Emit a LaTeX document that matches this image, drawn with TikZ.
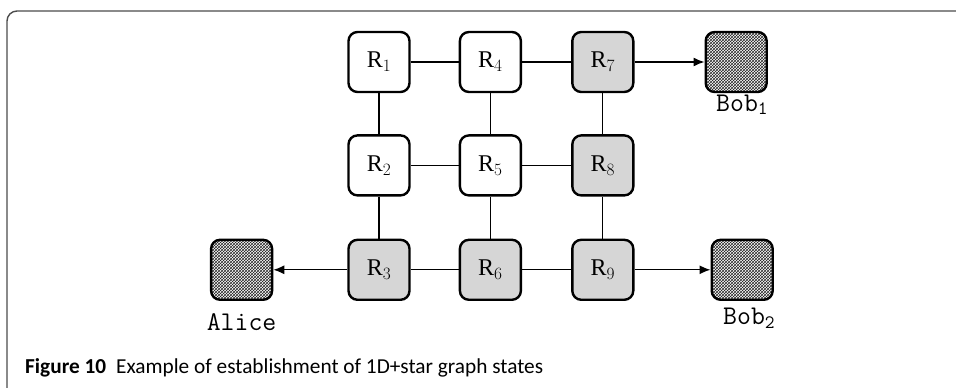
\documentclass[tikz,border=0pt]{standalone}
\usepackage{fontspec}
\setmainfont{Liberation Serif}
\newfontfamily\capfont{Carlito}
\usetikzlibrary{arrows.meta, positioning, patterns}

\begin{document}
\begin{tikzpicture}[
      x = 1pt, y = 1pt,
      >=Latex,
      font = \fontsize{24}{28}\selectfont,
      relay/.style={
        draw = black,
        line width = 2.4pt,
        rounded corners = 9pt,
        fill = white,
        minimum width = 61pt,
        minimum height = 60pt,
        inner sep = 0pt,
      },
      used/.style={
        relay,
        fill = black!16,
      },
      party/.style={
        relay,
        pattern = crosshatch,
        pattern color = black!85,
      },
      partylabel/.style={
        font = \fontsize{27}{31}\selectfont\ttfamily,
        inner sep = 0pt,
        anchor = base,
      },
      link/.style={
        line width = 1.3pt,
      },
      send/.style={
        -{Latex[length=11pt, width=9pt]},
        line width = 1.3pt,
      },
    ]
    \useasboundingbox (0,0) rectangle (956,388);
    % frame
    \draw[black!70, line width = 1.4pt, rounded corners = 10pt]
      (956,377) -- (7,377) -- (7,-2);
    % grid of repeaters
    \node[relay] (r1) at (379,326) {R$_1$};
    \node[relay, right = 48pt of r1] (r4) {R$_4$};
    \node[used, right = 49pt of r4] (r7) {R$_7$};
    \node[relay, below = 41pt of r1] (r2) {R$_2$};
    \node[relay, right = 48pt of r2] (r5) {R$_5$};
    \node[used, right = 49pt of r5] (r8) {R$_8$};
    \node[used, below = 42pt of r2] (r3) {R$_3$};
    \node[used, right = 48pt of r3] (r6) {R$_6$};
    \node[used, right = 49pt of r6] (r9) {R$_9$};
    % end users
    \node[party, right = 70pt of r7] (bob1) {};
    \node[party, right = 76pt of r9] (bob2) {};
    \node[party, left = 74pt of r3] (alice) {};
    \node[below = 18pt of bob1, partylabel, xshift = 6pt] (bob1-l) {Bob$_\mathtt{1}$};
    \node[below = 24pt of bob2, partylabel, xshift = 7pt] (bob2-l) {Bob$_\mathtt{2}$};
    \node[below = 30pt of alice, partylabel] (alice-l) {Alice};
    % links
    \draw[link] (r1) -- (r4);
    \draw[link] (r4) -- (r7);
    \draw[link] (r2) -- (r5);
    \draw[link] (r5) -- (r8);
    \draw[link] (r3) -- (r6);
    \draw[link] (r6) -- (r9);
    \draw[link] (r1) -- (r2);
    \draw[link] (r2) -- (r3);
    \draw[link] (r4) -- (r5);
    \draw[link] (r5) -- (r6);
    \draw[link] (r7) -- (r8);
    \draw[link] (r8) -- (r9);
    \draw[send] (r7) -- (bob1);
    \draw[send] (r9) -- (bob2);
    \draw[send] (r3) -- (alice);
    % caption
    \node[anchor = base west, inner sep = 0pt,
      font = \fontsize{21.3}{25}\selectfont\capfont] (caption) at (25,14)
      {\textbf{Figure 10}\hspace{10pt}Example of establishment of 1D+star graph states};
  \end{tikzpicture}
\end{document}
